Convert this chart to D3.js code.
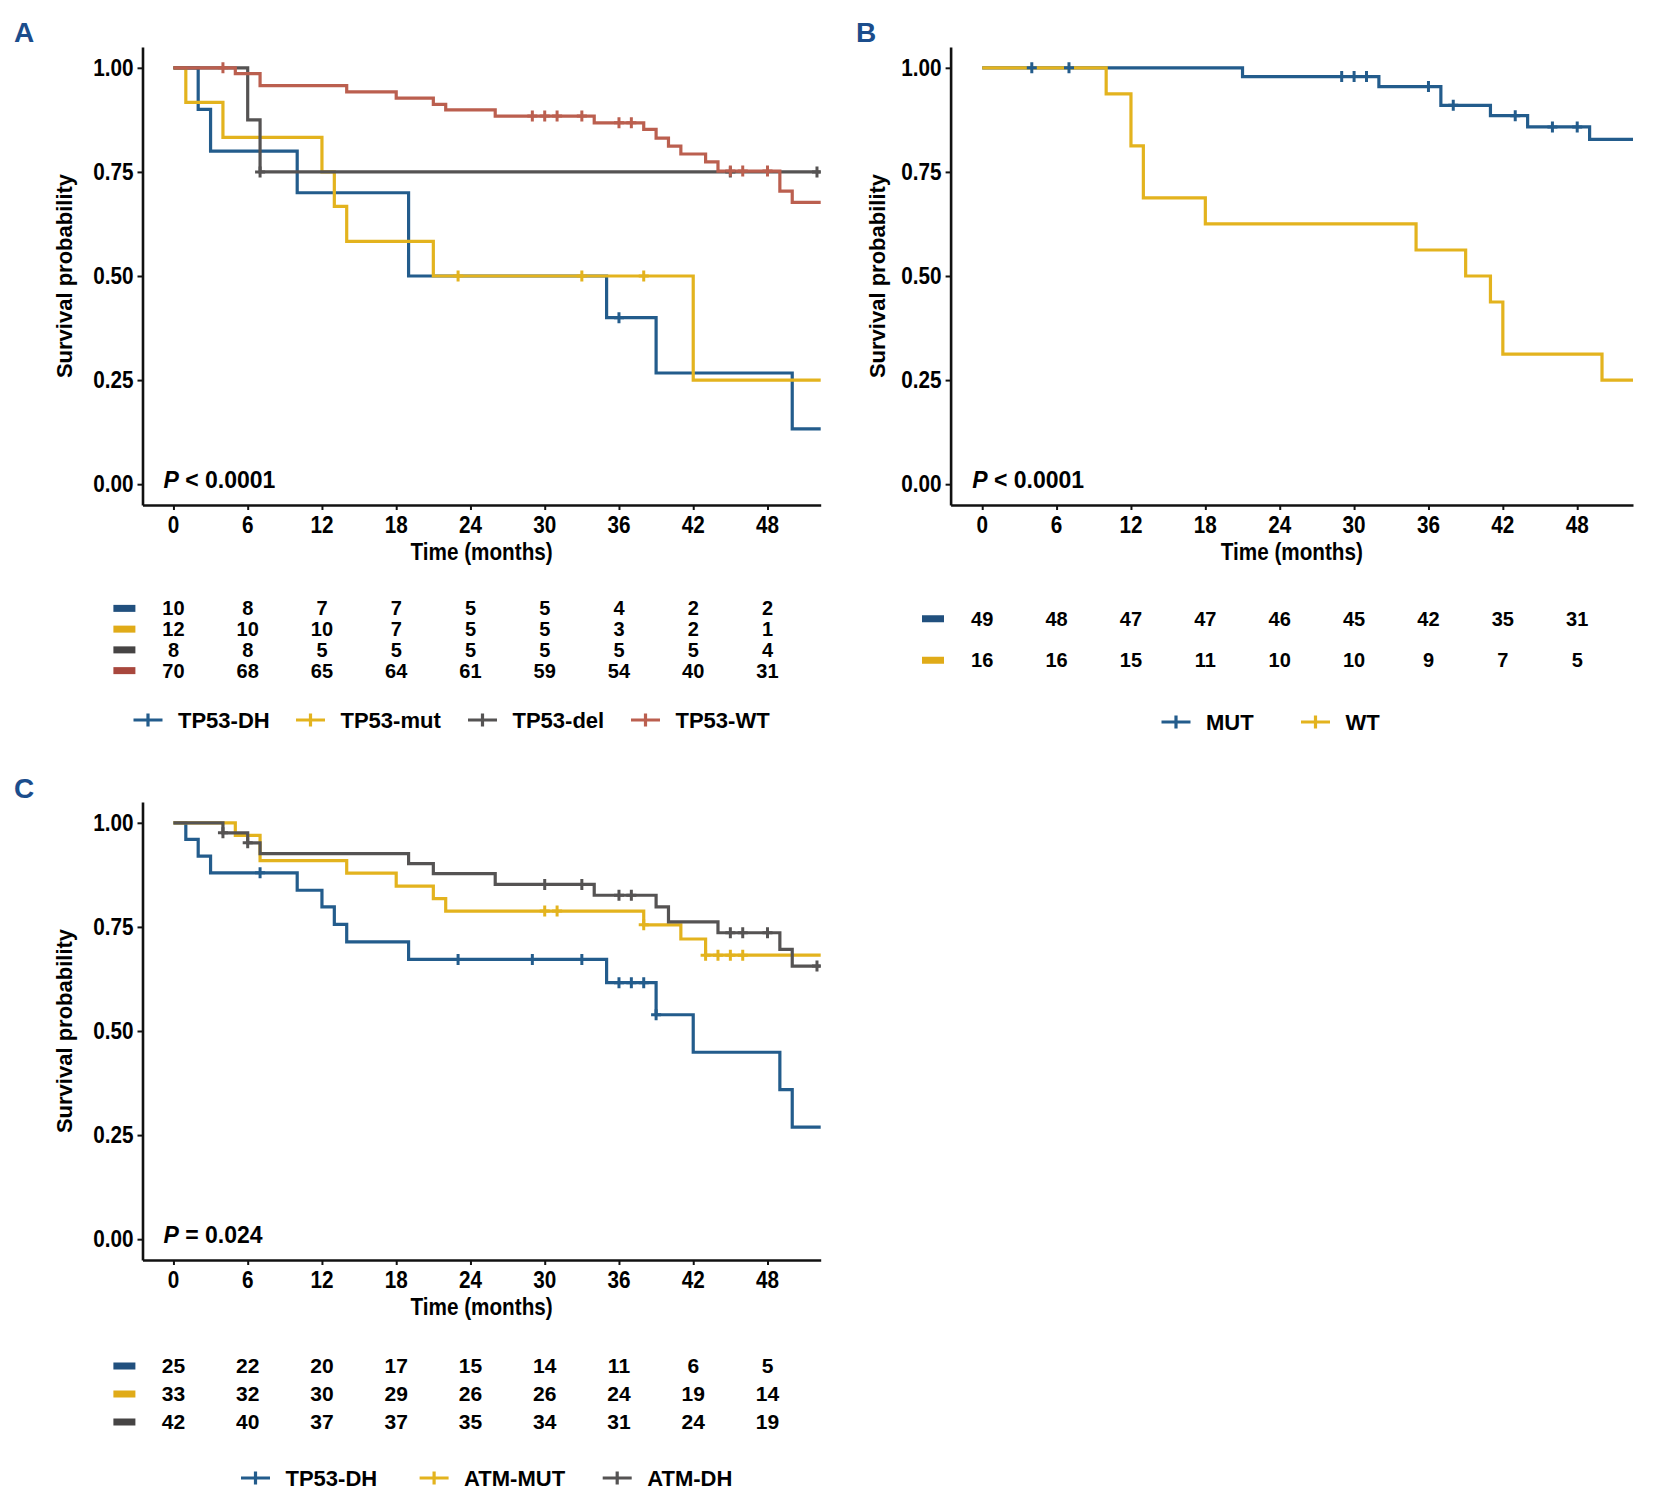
<!DOCTYPE html>
<html>
<head>
<meta charset="utf-8">
<script src="https://cdn.jsdelivr.net/npm/d3@7"></script>
<style>
  body { margin: 0; background: #fff; }
  svg { display: block; }
</style>
</head>
<body>
<script>
//
// Data
//

const timeTicks = [0, 6, 12, 18, 24, 30, 36, 42, 48]
const survTicks = [0, 0.25, 0.5, 0.75, 1]

// A: TP53 status
const aLabels = ['TP53-DH', 'TP53-mut', 'TP53-del', 'TP53-WT']
const aDhSteps = [[0, 1], [2, 0.9], [3, 0.8], [10, 0.7], [19, 0.5], [35, 0.4], [39, 0.267], [50, 0.133]]
const aDhCensor = [36]
const aDhRisk = [10, 8, 7, 7, 5, 5, 4, 2, 2]
const aMutSteps = [[0, 1], [1, 0.917], [4, 0.833], [12, 0.75], [13, 0.667], [14, 0.583], [21, 0.5], [42, 0.25]]
const aMutCensor = [23, 33, 38]
const aMutRisk = [12, 10, 10, 7, 5, 5, 3, 2, 1]
const aDelSteps = [[0, 1], [6, 0.875], [7, 0.75]]
const aDelCensor = [7, 45, 52]
const aDelRisk = [8, 8, 5, 5, 5, 5, 5, 5, 4]
const aWtSteps = [[0, 1], [5, 0.986], [7, 0.957], [14, 0.942], [18, 0.927], [21, 0.912], [22, 0.899],
  [26, 0.884], [34, 0.868], [38, 0.852], [39, 0.831], [40, 0.812], [41, 0.793], [43, 0.774],
  [44, 0.752], [49, 0.704], [50, 0.677]]
const aWtCensor = [4, 29, 30, 31, 33, 36, 37, 45, 46, 48]
const aWtRisk = [70, 68, 65, 64, 61, 59, 54, 40, 31]

// B: MUT vs WT
const bLabels = ['MUT', 'WT']
const bMutSteps = [[0, 1], [21, 0.979], [32, 0.955], [37, 0.91], [41, 0.885], [44, 0.858], [49, 0.828]]
const bMutCensor = [4, 7, 29, 30, 31, 36, 38, 43, 46, 48]
const bMutRisk = [49, 48, 47, 47, 46, 45, 42, 35, 31]
const bWtSteps = [[0, 1], [10, 0.9375], [12, 0.8125], [13, 0.6875], [18, 0.625], [35, 0.5625],
  [39, 0.5], [41, 0.4375], [42, 0.3125], [50, 0.25]]
const bWtCensor = []
const bWtRisk = [16, 16, 15, 11, 10, 10, 9, 7, 5]

// C: TP53-DH / ATM
const cLabels = ['TP53-DH', 'ATM-MUT', 'ATM-DH']
const cDhSteps = [[0, 1], [1, 0.96], [2, 0.92], [3, 0.88], [10, 0.838], [12, 0.798], [13, 0.756],
  [14, 0.714], [19, 0.672], [35, 0.616], [39, 0.539], [42, 0.449], [49, 0.359], [50, 0.269]]
const cDhCensor = [7, 23, 29, 33, 36, 37, 38, 39]
const cDhRisk = [25, 22, 20, 17, 15, 14, 11, 6, 5]
const cAtmMutSteps = [[0, 1], [5, 0.97], [7, 0.909], [14, 0.879], [18, 0.848], [21, 0.818],
  [22, 0.788], [38, 0.755], [41, 0.721], [43, 0.682]]
const cAtmMutCensor = [30, 31, 38, 43, 44, 45, 46]
const cAtmMutRisk = [33, 32, 30, 29, 26, 26, 24, 19, 14]
const cAtmDhSteps = [[0, 1], [4, 0.976], [6, 0.952], [7, 0.926], [19, 0.902], [21, 0.878],
  [26, 0.852], [34, 0.826], [39, 0.798], [40, 0.762], [44, 0.736], [49, 0.696], [50, 0.656]]
const cAtmDhCensor = [4, 6, 30, 33, 36, 37, 45, 46, 48, 52]
const cAtmDhRisk = [42, 40, 37, 37, 35, 34, 31, 24, 19]

const pTexts = { A: ' < 0.0001', B: ' < 0.0001', C: ' = 0.024' }

//
// Styles
//

const BLUE = '#235c8c'
const YELLOW = '#e3b31e'
const GRAY = '#555353'
const RED = '#bb5f4f'
const BAR = { [BLUE]: '#21507e', [YELLOW]: '#e0ab18', [GRAY]: '#464444', [RED]: '#a8473d' }
const LETTER_COLOR = '#1b4d8c'
const FONT = '"Liberation Sans", Arial, Helvetica, sans-serif'
const NARROW = 0.9

const panels = [
  {
    id: 'A', letter: [14, 42],
    left: 142.5, right: 820.7, top: 47, bottom: 505, xDomain: [-2.5, 52.3], ylabX: 72,
    curves: [
      { name: aLabels[0], color: BLUE, steps: aDhSteps, censor: aDhCensor, risk: aDhRisk },
      { name: aLabels[1], color: YELLOW, steps: aMutSteps, censor: aMutCensor, risk: aMutRisk },
      { name: aLabels[2], color: GRAY, steps: aDelSteps, censor: aDelCensor, risk: aDelRisk },
      { name: aLabels[3], color: RED, steps: aWtSteps, censor: aWtCensor, risk: aWtRisk },
    ],
    table: [598, 681], barX: 113.4, riskSize: 20,
    legendY: 720, legendX: [133.5, 296, 468, 631],
  },
  {
    id: 'B', letter: [856, 42],
    left: 950.6, right: 1633, top: 47, bottom: 505, xDomain: [-2.55, 52.5], ylabX: 885,
    curves: [
      { name: bLabels[0], color: BLUE, steps: bMutSteps, censor: bMutCensor, risk: bMutRisk },
      { name: bLabels[1], color: YELLOW, steps: bWtSteps, censor: bWtCensor, risk: bWtRisk },
    ],
    table: [598, 681], barX: 922, riskSize: 20,
    legendY: 722, legendX: [1161.5, 1301],
  },
  {
    id: 'C', letter: [14, 798],
    left: 142.5, right: 820.7, top: 802, bottom: 1260, xDomain: [-2.5, 52.3], ylabX: 72,
    curves: [
      { name: cLabels[0], color: BLUE, steps: cDhSteps, censor: cDhCensor, risk: cDhRisk },
      { name: cLabels[1], color: YELLOW, steps: cAtmMutSteps, censor: cAtmMutCensor, risk: cAtmMutRisk },
      { name: cLabels[2], color: GRAY, steps: cAtmDhSteps, censor: cAtmDhCensor, risk: cAtmDhRisk },
    ],
    table: [1352, 1436], barX: 113.4, riskSize: 21,
    legendY: 1478, legendX: [241, 419.6, 602.7],
  },
]

const svg = d3.select('body').append('svg')
  .attr('width', 1655)
  .attr('height', 1494)
  .attr('font-family', FONT)
  .attr('font-weight', 'bold')

//
// Helpers
//

// condensed text, the figure uses a narrow bold face for numbers
function narrowText(g, x, y, str, size, anchor) {
  return g.append('text')
    .attr('transform', `translate(${x},${y}) scale(${NARROW},1)`)
    .attr('font-size', size)
    .attr('text-anchor', anchor)
    .text(str)
}

function survAt(steps, t) {
  let s = steps[0][1]
  for (const [time, v] of steps) if (time <= t) s = v
  return s
}

//
// Drawing
//

function drawPanel(p) {
  const g = svg.append('g')
  const x = d3.scaleLinear().domain(p.xDomain).range([p.left, p.right])
  const y = d3.scaleLinear().domain([-0.05, 1.05]).range([p.bottom, p.top])

  g.append('text')
    .attr('x', p.letter[0]).attr('y', p.letter[1])
    .attr('font-size', 28)
    .attr('fill', LETTER_COLOR)
    .text(p.id)

  const clipId = `clip-${p.id}`
  g.append('clipPath').attr('id', clipId)
    .append('rect')
    .attr('x', p.left).attr('y', p.top)
    .attr('width', p.right - p.left).attr('height', p.bottom - p.top)

  const line = d3.line()
    .x((d) => x(d[0]))
    .y((d) => y(d[1]))
    .curve(d3.curveStepAfter)

  const plot = g.append('g').attr('clip-path', `url(#${clipId})`)
  for (const c of p.curves) {
    const last = c.steps[c.steps.length - 1]
    plot.append('path')
      .datum([...c.steps, [p.xDomain[1] + 1, last[1]]])
      .attr('d', line)
      .attr('fill', 'none')
      .attr('stroke', c.color)
      .attr('stroke-width', 3.2)
  }
  // censor marks go on top of all curves
  for (const c of p.curves) {
    plot.selectAll(null)
      .data(c.censor)
      .join('path')
      .attr('d', (t) => `M${x(t)},${y(survAt(c.steps, t)) - 5.5}v11M${x(t) - 5},${y(survAt(c.steps, t))}h10`)
      .attr('stroke', c.color)
      .attr('stroke-width', 3)
  }

  // axes
  const xAxis = g.append('g')
    .attr('transform', `translate(0,${p.bottom})`)
    .call(d3.axisBottom(x).tickValues(timeTicks).tickSizeInner(5).tickSizeOuter(0).tickFormat(''))
  const yAxis = g.append('g')
    .attr('transform', `translate(${p.left},0)`)
    .call(d3.axisLeft(y).tickValues(survTicks).tickSizeInner(5).tickSizeOuter(0).tickFormat(''))
  for (const ax of [xAxis, yAxis]) {
    ax.select('.domain').attr('stroke', '#111').attr('stroke-width', 2.6)
    ax.selectAll('.tick line').attr('stroke', '#111').attr('stroke-width', 2)
  }
  for (const t of timeTicks) narrowText(g, x(t), p.bottom + 28, t, 23, 'middle')
  for (const s of survTicks) narrowText(g, p.left - 9, y(s) + 8.2, d3.format('.2f')(s), 23, 'end')

  narrowText(g, (p.left + p.right) / 2, p.bottom + 55, 'Time (months)', 23, 'middle')
  g.append('text')
    .attr('transform', `translate(${p.ylabX},${(p.top + p.bottom) / 2}) rotate(-90)`)
    .attr('font-size', 22)
    .attr('text-anchor', 'middle')
    .text('Survival probability')

  const pt = g.append('text')
    .attr('x', x(0) - 10)
    .attr('y', y(0) + 4)
    .attr('font-size', 23)
  pt.append('tspan').attr('font-style', 'italic').text('P')
  pt.append('tspan').text(pTexts[p.id])

  // number at risk
  const rows = d3.scaleBand()
    .domain(p.curves.map((c) => c.name))
    .range(p.table)
  for (const c of p.curves) {
    const cy = rows(c.name) + rows.bandwidth() / 2
    g.append('rect')
      .attr('x', p.barX).attr('y', cy - 3.5)
      .attr('width', 22).attr('height', 7)
      .attr('fill', BAR[c.color])
    g.selectAll(null)
      .data(c.risk)
      .join('text')
      .attr('x', (d, i) => x(timeTicks[i]))
      .attr('y', cy + 7)
      .attr('font-size', p.riskSize)
      .attr('text-anchor', 'middle')
      .text((d) => d)
  }

  // legend
  p.curves.forEach((c, i) => {
    const lx = p.legendX[i]
    const ly = p.legendY
    g.append('path')
      .attr('d', `M${lx},${ly}h29M${lx + 14.5},${ly - 6.5}v13`)
      .attr('stroke', c.color)
      .attr('stroke-width', 3.2)
    g.append('text')
      .attr('x', lx + 44.5)
      .attr('y', ly + 8)
      .attr('font-size', 22)
      .text(c.name)
  })
}

panels.forEach(drawPanel)
</script>
</body>
</html>
